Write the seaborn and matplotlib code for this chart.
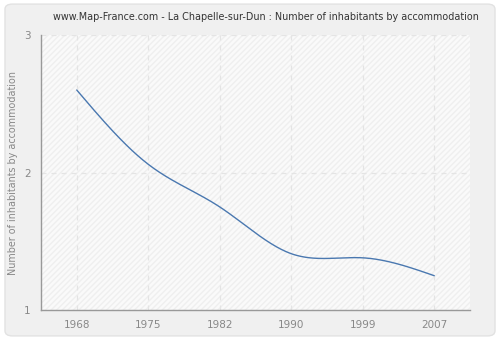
import numpy as np
import pandas as pd
import seaborn as sns
import matplotlib
matplotlib.use("Agg")
import matplotlib.pyplot as plt
from matplotlib.patches import FancyBboxPatch, Rectangle

years = [1968, 1975, 1982, 1990, 1999, 2007]
values = [2.60, 2.06, 1.75, 1.41, 1.38, 1.25]
yticks = [1, 2, 3]
title = "www.Map-France.com - La Chapelle-sur-Dun : Number of inhabitants by accommodation"
ylabel = "Number of inhabitants by accommodation"


def natural_spline(x, y, n=400):
    x = np.asarray(x, float); y = np.asarray(y, float)
    k = len(x)
    h = np.diff(x)
    A = np.zeros((k, k)); b = np.zeros(k)
    A[0, 0] = A[-1, -1] = 1
    for i in range(1, k - 1):
        A[i, i - 1] = h[i - 1]
        A[i, i] = 2 * (h[i - 1] + h[i])
        A[i, i + 1] = h[i]
        b[i] = 3 * ((y[i + 1] - y[i]) / h[i] - (y[i] - y[i - 1]) / h[i - 1])
    c = np.linalg.solve(A, b)
    xs = np.linspace(x[0], x[-1], n)
    ys = np.empty_like(xs)
    for j, xv in enumerate(xs):
        i = min(np.searchsorted(x, xv, side="right") - 1, k - 2)
        dx = xv - x[i]
        bb = (y[i + 1] - y[i]) / h[i] - h[i] * (2 * c[i] + c[i + 1]) / 3
        d = (c[i + 1] - c[i]) / (3 * h[i])
        ys[j] = y[i] + bb * dx + c[i] * dx ** 2 + d * dx ** 3
    return xs, ys


sns.set_style("white")
plt.rcParams['font.family'] = ['DejaVu Sans']

fig = plt.figure(figsize=(5, 3.4), dpi=100)
fig.patch.set_facecolor("white")
bg = FancyBboxPatch((0.01, 0.012), 0.98, 0.976, boxstyle="round,pad=0,rounding_size=0.015",
                    transform=fig.transFigure, facecolor="#f0f0f0", edgecolor="#e2e2e2",
                    linewidth=1, zorder=-10)
fig.patches.append(bg)

ax = fig.add_axes([0.082, 0.088, 0.858, 0.809])
ax.set_facecolor("#fafafa")
ax.add_patch(Rectangle((0, 0), 1, 1, transform=ax.transAxes, facecolor="none",
                       edgecolor="#efefef", hatch="//////", linewidth=0, zorder=0))

pos = np.arange(len(years))
xs, ys = natural_spline(pos, values)
df = pd.DataFrame({"pos": xs, "value": ys})
sns.lineplot(data=df, x="pos", y="value", ax=ax, color="#4a78b0", linewidth=1.0, zorder=3)

ax.set_xlim(-0.5, len(years) - 0.5)
ax.set_ylim(1, 3)
ax.set_xticks(pos)
ax.set_xticklabels([str(y) for y in years])
ax.set_yticks(yticks)
ax.set_yticklabels([str(t) for t in yticks])
ax.grid(True, color="#e4e4e4", linestyle=(0, (4, 4)), linewidth=0.9)
ax.set_axisbelow(True)

for s in ["top", "right"]:
    ax.spines[s].set_visible(False)
for s in ["left", "bottom"]:
    ax.spines[s].set_color("#999999")
    ax.spines[s].set_linewidth(1)

ax.tick_params(axis="both", colors="#999999", labelcolor="#888888", labelsize=7.5,
               length=4, width=1, direction="out")
ax.set_xlabel("")
ax.set_ylabel(ylabel, color="#888888", fontsize=6.9)
fig.text(266 / 500, 1 - 17 / 340, title, color="#333333", fontsize=6.9,
         ha="center", va="center")

fig.savefig("out.png", dpi=100, facecolor=fig.get_facecolor())
